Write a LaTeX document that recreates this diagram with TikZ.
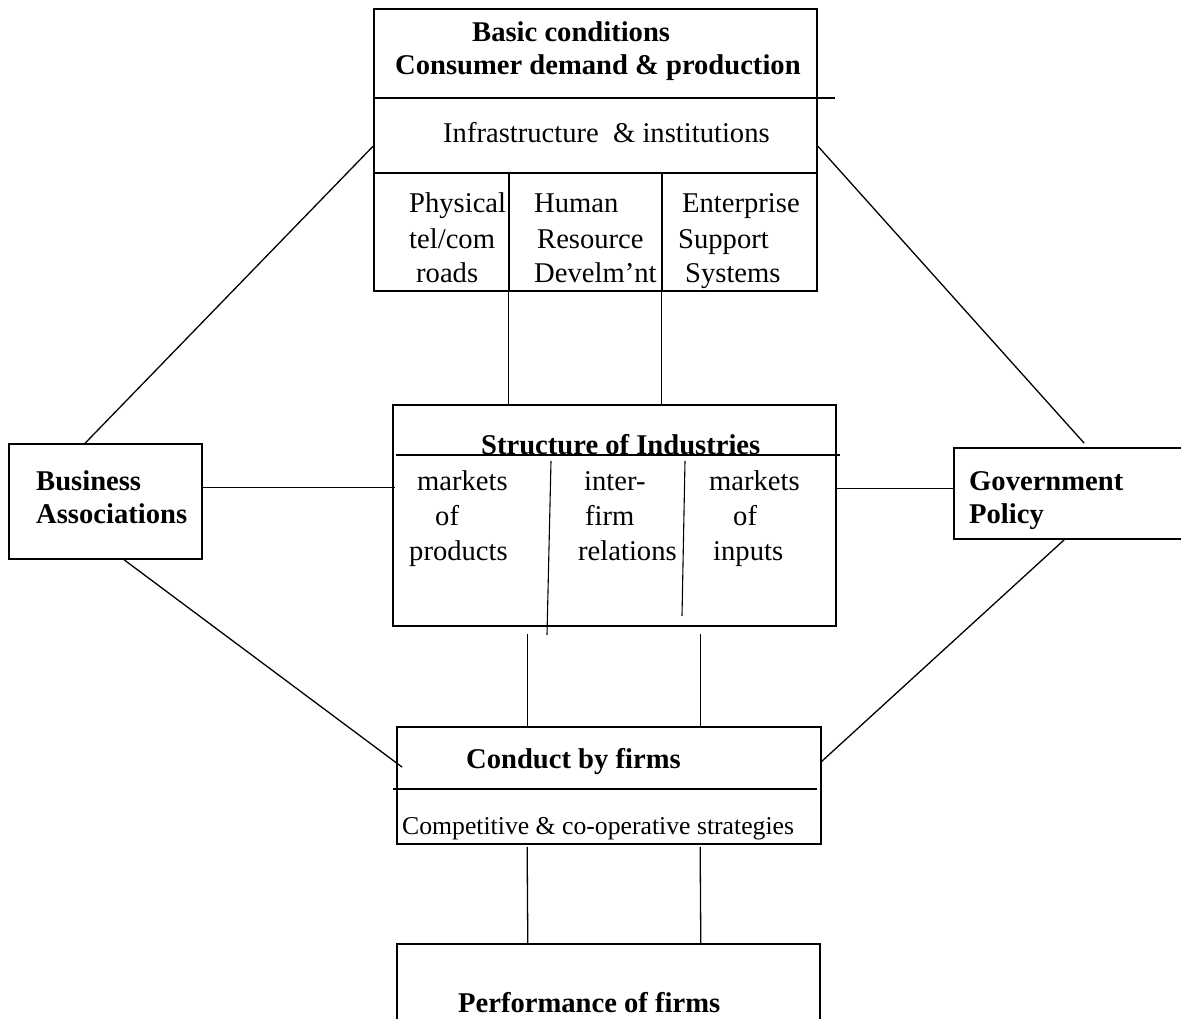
\documentclass[tikz,border=0pt]{standalone}
\usepackage{fontspec}
\setmainfont{Liberation Serif}
\usetikzlibrary{calc}
\begin{document}
\begin{tikzpicture}[x=1pt,y=-1pt,
  box/.style={draw,line width=1.7pt,inner sep=0pt},
  openbox/.style={inner sep=0pt},
  divider/.style={line width=1.3pt},
  conn/.style={line width=1.3pt},
  txt/.style={anchor=base west,inner sep=0pt,font=\fontsize{28.6}{35}\selectfont},
  btxt/.style={anchor=base west,inner sep=0pt,font=\fontsize{28.6}{35}\selectfont\bfseries},
  stxt/.style={anchor=base west,inner sep=0pt,font=\fontsize{25.7}{31}\selectfont},
]
\useasboundingbox (0,0) rectangle (1181,1019);
\clip (0,0) rectangle (1181,1019);

% boxes
\node[box,minimum width=443pt,minimum height=282pt] (top) at (595.5,150) {};
\node[box,minimum width=443pt,minimum height=221pt] (str) at (614.5,515.5) {};
\node[box,minimum width=193pt,minimum height=115pt] (bus) at (105.5,501.5) {};
\node[box,minimum width=246pt,minimum height=91pt] (gov) at (1077,493.5) {};
\node[box,minimum width=424pt,minimum height=117pt] (con) at (609,785.5) {};
\node[openbox,minimum width=423pt,minimum height=150pt] (perf) at (608.5,1019) {};
\draw[line width=1.7pt] (perf.south west) -- (perf.north west) -- (perf.north east) -- (perf.south east);

% top box inner structure
\coordinate (tl1) at (374,98);  \coordinate (tr1) at (835,98);
\coordinate (tl2) at (374,173); \coordinate (tr2) at (817,173);
\draw[divider] (tl1) -- (tr1);
\draw[divider] (tl2) -- (tr2);
\coordinate (tv1a) at (509,173); \coordinate (tv1b) at (509,291);
\coordinate (tv2a) at (662,173); \coordinate (tv2b) at (662,291);
\draw[divider] (tv1a) -- (tv1b);
\draw[divider] (tv2a) -- (tv2b);

\node[btxt] (t1) at (472,42) {Basic conditions};
\node[btxt] (t2) at (395,75) {Consumer demand \& production};
\node[txt] (t3) at (443,143) {Infrastructure\ \ \& institutions};
\node[txt] (p1) at (409,213) {Physical};
\node[txt] (p2) at (409,248) {tel/com};
\node[txt] (p3) at (416,282) {roads};
\node[txt] (h1) at (534,213) {Human};
\node[txt] (h2) at (537,248) {Resource};
\node[txt] (h3) at (534,282) {Develm'nt};
\node[txt] (e1) at (682,213) {Enterprise};
\node[txt] (e2) at (678,248) {Support};
\node[txt] (e3) at (685,282) {Systems};

% structure box inner
\coordinate (sl) at (396,455); \coordinate (sr) at (840,455);
\draw[divider] (sl) -- (sr);
\coordinate (sa1) at (551,461); \coordinate (sa2) at (547,635);
\coordinate (sb1) at (685,461); \coordinate (sb2) at (682,616);
\draw[line width=1.1pt] (sa1) -- (sa2);
\draw[line width=1.1pt] (sb1) -- (sb2);
\node[btxt] (s0) at (481,454) {Structure of Industries};
\node[txt] (m1) at (417,490) {markets};
\node[txt] (m2) at (435,525) {of};
\node[txt] (m3) at (409,560) {products};
\node[txt] (i1) at (584,490) {inter-};
\node[txt] (i2) at (585,525) {firm};
\node[txt] (i3) at (578,560) {relations};
\node[txt] (n1) at (709,490) {markets};
\node[txt] (n2) at (733,525) {of};
\node[txt] (n3) at (713,560) {inputs};

% side boxes text
\node[btxt] (b1) at (36,490) {Business};
\node[btxt] (b2) at (36,523) {Associations};
\node[btxt] (g1) at (969,490) {Government};
\node[btxt] (g2) at (969,523) {Policy};

% conduct box
\coordinate (cl) at (393,789); \coordinate (cr) at (817,789);
\draw[divider] (cl) -- (cr);
\node[btxt] (c1) at (466,768) {Conduct by firms};
\node[stxt] (c2) at (402,834) {Competitive \& co-operative strategies};

% performance
\node[btxt] (pf) at (458,1012) {Performance of firms};

% connectors
\draw[conn] ($(top.south west)+(135,0)$) -- ($(str.north west)+(116,0)$);
\draw[conn] ($(top.south west)+(288,0)$) -- ($(str.north west)+(269,0)$);
\draw[conn] ($(bus.north west)+(77,0)$) -- ($(top.north west)+(0,138)$);
\draw[conn] ($(top.north east)+(0,138)$) -- ($(gov.north west)+(131,-4)$);
\draw[conn] ($(bus.north east)+(0,44)$) -- ($(str.north west)+(3,83)$);
\draw[conn] ($(str.north east)+(0,84)$) -- ($(gov.north west)+(0,41)$);
\draw[conn] ($(bus.south west)+(116,0)$) -- ($(con.north west)+(6,41)$);
\draw[conn] ($(gov.south west)+(111,0)$) -- ($(con.north east)+(-1,36)$);
\draw[conn] ($(str.south west)+(135,7)$) -- ($(con.north west)+(131,0)$);
\draw[conn] ($(str.south west)+(308,7)$) -- ($(con.north west)+(304,0)$);
\draw[conn] ($(con.south west)+(131,2)$) -- ($(perf.north west)+(131,0)$);
\draw[conn] ($(con.south west)+(304,2)$) -- ($(perf.north west)+(304,0)$);
\end{tikzpicture}
\end{document}
